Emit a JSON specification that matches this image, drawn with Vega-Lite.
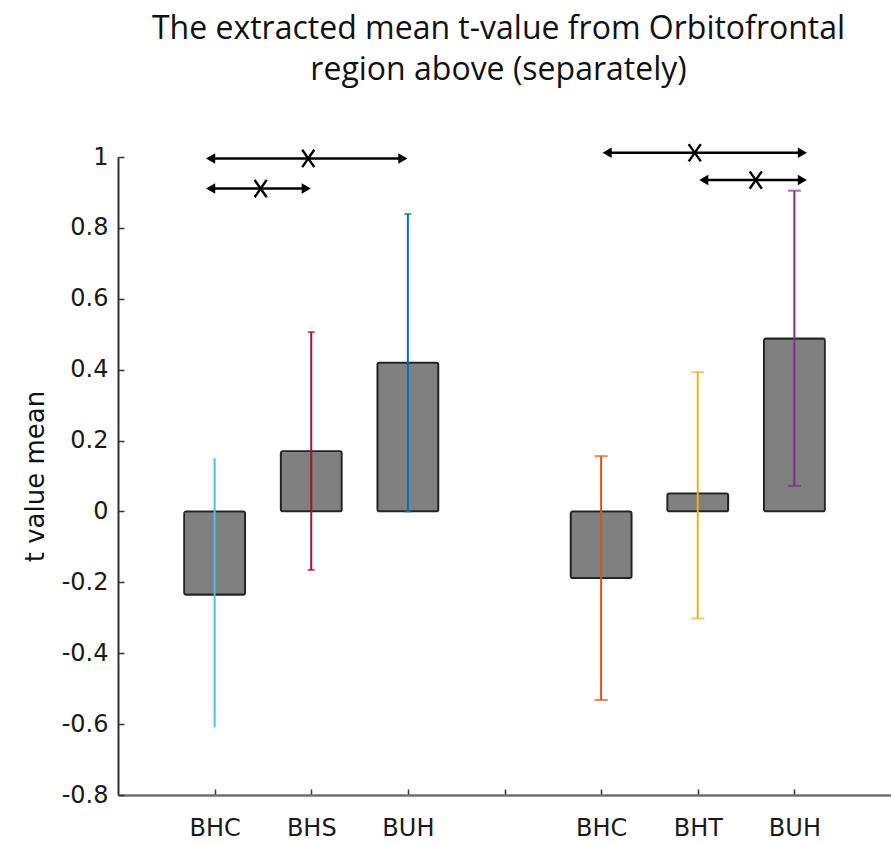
{
  "$schema": "https://vega.github.io/schema/vega-lite/v6.json",
  "width": 773,
  "height": 638,
  "autosize": {"type": "none"},
  "padding": {"left": 118, "top": 157, "right": 0, "bottom": 48},
  "background": "white",
  "config": {"view": {"stroke": null}, "font": "DejaVu Sans"},
  "title": {
    "text": ["The extracted mean t-value from Orbitofrontal", "region above (separately)"],
    "font": "Open Sans",
    "fontSize": 32,
    "fontWeight": "normal",
    "color": "#111111",
    "lineHeight": 41,
    "anchor": "middle",
    "dx": -6,
    "offset": 52
  },
  "datasets": {
    "bars": [
      {"cond": "BHC_1", "mean": -0.235, "lo": -0.609, "hi": 0.15, "grp": 1},
      {"cond": "BHS_1", "mean": 0.17, "lo": -0.165, "hi": 0.506, "grp": 1},
      {"cond": "BUH_1", "mean": 0.42, "lo": 0.0, "hi": 0.839, "grp": 1},
      {"cond": "BHC_2", "mean": -0.188, "lo": -0.532, "hi": 0.156, "grp": 2},
      {"cond": "BHT_2", "mean": 0.051, "lo": -0.302, "hi": 0.393, "grp": 2},
      {"cond": "BUH_2", "mean": 0.488, "lo": 0.072, "hi": 0.905, "grp": 2}
    ],
    "sig": [
      {"from": "BHC_1", "to": "BUH_1", "y": 0.996, "mid": "BHS_1", "kind": "wide", "grp": 1},
      {"from": "BHC_1", "to": "BHS_1", "y": 0.911, "mid": "BHC_1", "kind": "narrow", "grp": 1},
      {"from": "BHC_2", "to": "BUH_2", "y": 1.012, "mid": "BHT_2", "kind": "wide", "grp": 2},
      {"from": "BHT_2", "to": "BUH_2", "y": 0.935, "mid": "BHT_2", "kind": "narrow", "grp": 2}
    ]
  },
  "layer": [
    {
      "mark": {"type": "rule", "color": "#808080", "strokeWidth": 3},
      "encoding": {"y": {"datum": 0, "type": "quantitative"}}
    },
    {
      "data": {"name": "bars"},
      "mark": {"type": "bar", "size": 61, "color": "#808080", "stroke": "#242424", "strokeWidth": 1.8, "cornerRadius": 2},
      "encoding": {
        "x": {
          "field": "cond",
          "type": "nominal",
          "scale": {"type": "point", "domain": ["BHC_1", "BHS_1", "BUH_1", "_gap", "BHC_2", "BHT_2", "BUH_2"], "padding": 1},
          "axis": {
            "title": null,
            "labelExpr": "split(datum.label, '_')[0]",
            "labelFont": "DejaVu Sans",
            "labelFontSize": 24,
            "labelColor": "#1a1a1a",
            "labelPadding": 27,
            "labelAngle": 0,
            "tickSize": -6,
            "tickColor": "#333333",
            "tickWidth": 1.5,
            "domainColor": "#707070",
            "domainWidth": 2.5,
            "grid": false
          }
        },
        "y": {
          "field": "mean",
          "type": "quantitative",
          "scale": {"domain": [-0.8, 1], "nice": false, "zero": false},
          "axis": {
            "title": "t value mean",
            "titleFont": "DejaVu Sans",
            "titleFontSize": 26,
            "titleFontWeight": "normal",
            "titleColor": "#111111",
            "titlePadding": 13,
            "values": [-0.8, -0.6, -0.4, -0.2, 0, 0.2, 0.4, 0.6, 0.8, 1],
            "labelExpr": "toString(round(datum.value * 10) / 10)",
            "labelFont": "DejaVu Sans",
            "labelFontSize": 24,
            "labelColor": "#1a1a1a",
            "labelPadding": 16,
            "tickSize": -6,
            "tickColor": "#333333",
            "tickWidth": 1.5,
            "domainColor": "#333333",
            "domainWidth": 2,
            "grid": false
          }
        }
      }
    },
    {
      "data": {"name": "bars"},
      "mark": {"type": "rule", "strokeWidth": 2},
      "encoding": {
        "x": {"field": "cond", "type": "nominal"},
        "y": {"field": "lo", "type": "quantitative"},
        "y2": {"field": "hi"},
        "color": {
          "field": "cond",
          "type": "nominal",
          "scale": {"domain": ["BHC_1", "BHS_1", "BUH_1", "BHC_2", "BHT_2", "BUH_2"], "range": ["#4DBEEE", "#A2142F", "#0072BD", "#D95319", "#EDB120", "#7E2F8E"]},
          "legend": null
        }
      }
    },
    {
      "data": {"name": "bars"},
      "transform": [{"filter": "datum.grp == 1 && datum.cond != 'BHC_1'"}],
      "layer": [
        {"mark": {"type": "tick", "size": 7, "thickness": 2}, "encoding": {"x": {"field": "cond", "type": "nominal"}, "y": {"field": "lo", "type": "quantitative"}, "color": {"field": "cond", "type": "nominal", "legend": null}}},
        {"mark": {"type": "tick", "size": 7, "thickness": 2}, "encoding": {"x": {"field": "cond", "type": "nominal"}, "y": {"field": "hi", "type": "quantitative"}, "color": {"field": "cond", "type": "nominal", "legend": null}}}
      ]
    },
    {
      "data": {"name": "bars"},
      "transform": [{"filter": "datum.grp == 2"}],
      "layer": [
        {"mark": {"type": "tick", "size": 13, "thickness": 2}, "encoding": {"x": {"field": "cond", "type": "nominal"}, "y": {"field": "lo", "type": "quantitative"}, "color": {"field": "cond", "type": "nominal", "legend": null}}},
        {"mark": {"type": "tick", "size": 13, "thickness": 2}, "encoding": {"x": {"field": "cond", "type": "nominal"}, "y": {"field": "hi", "type": "quantitative"}, "color": {"field": "cond", "type": "nominal", "legend": null}}}
      ]
    },
    {
      "data": {"name": "sig"},
      "transform": [{"filter": "datum.grp == 1"}],
      "layer": [
        {
          "mark": {"type": "rule", "color": "#000000", "strokeWidth": 2.5, "x2Offset": -6},
          "encoding": {"x": {"field": "from", "type": "nominal"}, "x2": {"field": "to"}, "y": {"field": "y", "type": "quantitative"}}
        },
        {
          "mark": {"type": "point", "shape": "triangle-left", "filled": true, "color": "#000000", "size": 110, "opacity": 1, "xOffset": -4},
          "encoding": {"x": {"field": "from", "type": "nominal"}, "y": {"field": "y", "type": "quantitative"}}
        },
        {
          "mark": {"type": "point", "shape": "triangle-right", "filled": true, "color": "#000000", "size": 110, "opacity": 1, "xOffset": -5},
          "encoding": {"x": {"field": "to", "type": "nominal"}, "y": {"field": "y", "type": "quantitative"}}
        },
        {
          "transform": [{"filter": "datum.kind == 'wide'"}],
          "mark": {"type": "point", "shape": "M-0.7,-1L0.7,1M-0.7,1L0.7,-1", "filled": false, "stroke": "#000000", "strokeWidth": 2.4, "size": 300, "opacity": 1, "xOffset": -3},
          "encoding": {"x": {"field": "mid", "type": "nominal"}, "y": {"field": "y", "type": "quantitative"}}
        },
        {
          "transform": [{"filter": "datum.kind == 'narrow'"}],
          "mark": {"type": "point", "shape": "M-0.7,-1L0.7,1M-0.7,1L0.7,-1", "filled": false, "stroke": "#000000", "strokeWidth": 2.4, "size": 300, "opacity": 1, "xOffset": 46},
          "encoding": {"x": {"field": "mid", "type": "nominal"}, "y": {"field": "y", "type": "quantitative"}}
        }
      ]
    },
    {
      "data": {"name": "sig"},
      "transform": [{"filter": "datum.grp == 2"}],
      "layer": [
        {
          "mark": {"type": "rule", "color": "#000000", "strokeWidth": 2.5, "xOffset": 6, "x2Offset": 8},
          "encoding": {"x": {"field": "from", "type": "nominal"}, "x2": {"field": "to"}, "y": {"field": "y", "type": "quantitative"}}
        },
        {
          "mark": {"type": "point", "shape": "triangle-left", "filled": true, "color": "#000000", "size": 110, "opacity": 1, "xOffset": 6},
          "encoding": {"x": {"field": "from", "type": "nominal"}, "y": {"field": "y", "type": "quantitative"}}
        },
        {
          "mark": {"type": "point", "shape": "triangle-right", "filled": true, "color": "#000000", "size": 110, "opacity": 1, "xOffset": 8},
          "encoding": {"x": {"field": "to", "type": "nominal"}, "y": {"field": "y", "type": "quantitative"}}
        },
        {
          "transform": [{"filter": "datum.kind == 'wide'"}],
          "mark": {"type": "point", "shape": "M-0.7,-1L0.7,1M-0.7,1L0.7,-1", "filled": false, "stroke": "#000000", "strokeWidth": 2.4, "size": 300, "opacity": 1, "xOffset": -3},
          "encoding": {"x": {"field": "mid", "type": "nominal"}, "y": {"field": "y", "type": "quantitative"}}
        },
        {
          "transform": [{"filter": "datum.kind == 'narrow'"}],
          "mark": {"type": "point", "shape": "M-0.7,-1L0.7,1M-0.7,1L0.7,-1", "filled": false, "stroke": "#000000", "strokeWidth": 2.4, "size": 300, "opacity": 1, "xOffset": 58},
          "encoding": {"x": {"field": "mid", "type": "nominal"}, "y": {"field": "y", "type": "quantitative"}}
        }
      ]
    }
  ]
}
